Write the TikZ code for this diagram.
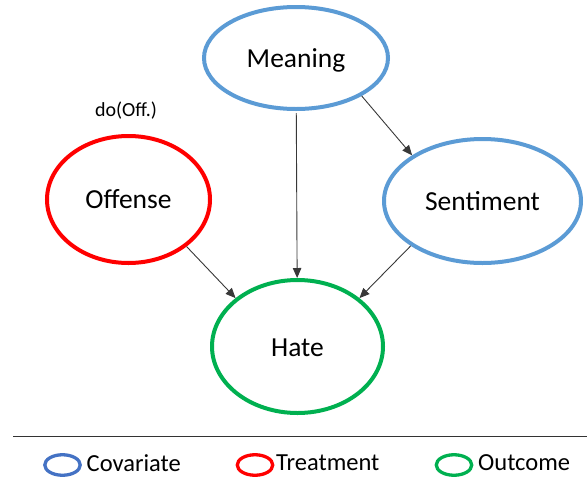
\documentclass[tikz,border=0pt]{standalone}
\usepackage{fontspec}
\setmainfont{Carlito}
\usetikzlibrary{shapes.geometric,arrows.meta}

\definecolor{covblue}{HTML}{5B9BD5}
\definecolor{legblue}{HTML}{4472C4}
\definecolor{treatred}{HTML}{FF0000}
\definecolor{outgreen}{HTML}{00B050}

\tikzset{
  var/.style={ellipse, draw, line width=4pt, inner sep=0pt, fill=white,
    font=\fontsize{27.5}{30}\selectfont, text height=18.5pt, text depth=0pt},
  cov/.style={var, draw=covblue},
  treat/.style={var, draw=treatred},
  outc/.style={var, draw=outgreen},
  edge/.style={draw=black!78, line width=0.9pt,
    -{Triangle[length=10pt,width=8.5pt]}},
  legmark/.style={ellipse, draw, line width=3.3pt, inner sep=0pt,
    minimum width=35.5pt, minimum height=20.5pt},
  legtext/.style={anchor=base west, inner sep=0pt,
    font=\fontsize{24.5}{28}\selectfont},
}

\begin{document}
\begin{tikzpicture}[x=1pt, y=-1pt]
  \useasboundingbox (0,0) rectangle (587,480);

  % causal variables
  \node[cov, minimum width=184pt, minimum height=102pt] (meaning) at (296,58) {Meaning};
  \node[treat, minimum width=163pt, minimum height=127pt] (offense) at (128.5,199.5) {Offense};
  \node[cov, minimum width=197pt, minimum height=124pt] (sentiment) at (482.5,201) {Sentiment};
  \node[outc, minimum width=171pt, minimum height=133pt, text height=20.5pt] (hate) at (297.5,346.5) {Hate};

  % intervention label
  \node[anchor=base, inner sep=0pt, font=\fontsize{20}{24}\selectfont] (doff) at (126,116.5) {do(Off.)};

  % causal edges
  \draw[edge, shorten <=2pt] (meaning) -- (hate);
  \draw[edge] (meaning.-30) -- (sentiment.147);
  \draw[edge] (offense.-39) -- (hate.142);
  \draw[edge] (sentiment.212) -- (hate.38);

  % separator rule
  \coordinate (ruleL) at (13,436.7);
  \coordinate (ruleR) at (587,436.7);
  \draw[black!80, line width=1pt] (ruleL) -- (ruleR);

  % legend
  \node[legmark, draw=legblue] (lcov) at (62.5,465) {};
  \node[legtext] (tcov) at (86.5,471.5) {Covariate};
  \node[legmark, draw=treatred] (ltreat) at (255,465) {};
  \node[legtext] (ttreat) at (276,470.5) {Treatment};
  \node[legmark, draw=outgreen] (lout) at (454,465) {};
  \node[legtext] (tout) at (478,470.5) {Outcome};
\end{tikzpicture}
\end{document}
